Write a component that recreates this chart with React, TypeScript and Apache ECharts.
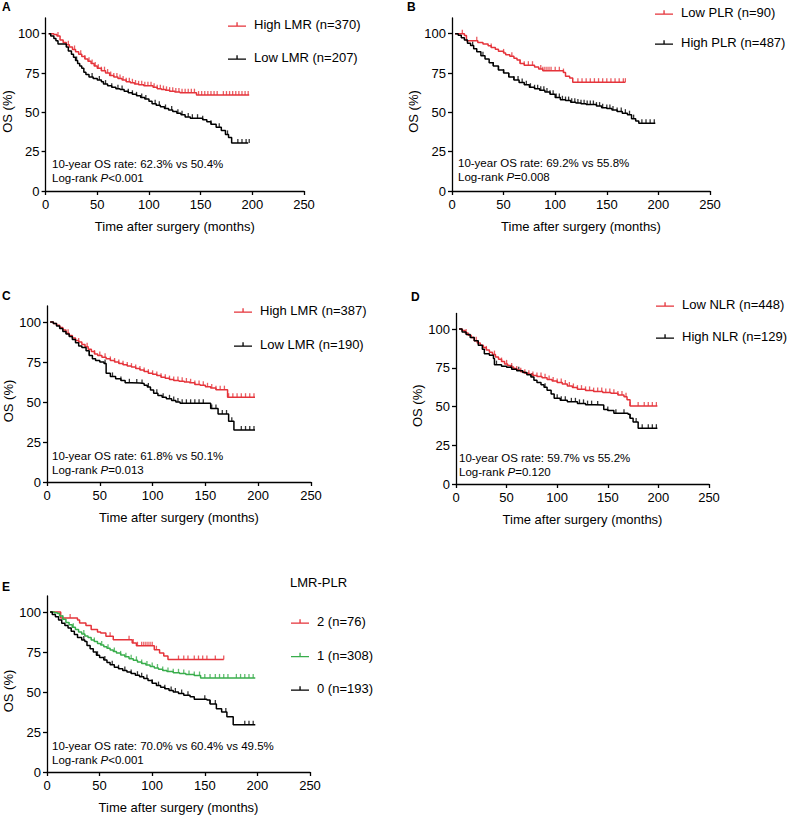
import React, { useEffect, useRef } from "react";
import * as echarts from "echarts";

const FONT = "'Liberation Sans', Arial, sans-serif";
const RED = "#e5333a";
const GREEN = "#38ad4b";
const BLACK = "#000000";

const xTicks = [0, 50, 100, 150, 200, 250];
const yTicks = [0, 25, 50, 75, 100];

// Panel A
const aHighLMR = [[3,100],[8,99.5],[11,98.5],[14,96],[17,94.5],[20,93],[23,91.5],[26,90],[29,88.5],[32,87],[35,85.5],[38,84],[41,82.5],[44,81],[47,79.5],[50,78],[54,76.5],[58,75],[62,73.5],[66,72.5],[70,71.5],[74,70.5],[78,69.5],[82,68.8],[86,68],[90,67.5],[95,67],[100,67],[104,66],[108,65],[112,64.5],[116,64],[120,63.5],[125,63],[130,62.5],[146,61],[197,61]];
const aHighLMRCensor = [12,22,28,34,38,42,45,48,51,54,57,60,63,66,69,72,75,78,81,84,87,90,93,96,99,102,105,108,111,114,117,120,123,126,129,132,135,138,141,144,148,151,154,157,160,163,166,172,175,178,181,184,187,190,193,196];
const aLowLMR = [[3,100],[5,98.5],[8,97],[10,95.5],[12,93.5],[20,91.5],[22,89],[25,87],[27,85],[29,83],[31,81],[33,79.5],[35,78],[37,75.5],[39,74],[42,72.5],[46,71.5],[50,70.5],[54,69.5],[56,68],[60,67],[64,66],[68,65],[72,64.5],[76,63.5],[80,62.5],[84,61.5],[88,60.5],[92,59.5],[96,58.5],[100,57],[103,55.5],[107,54.5],[111,53.5],[115,52.5],[119,51.5],[123,50.5],[127,49.5],[131,48.5],[135,47],[140,46.3],[152,45.3],[156,44],[160,42.5],[165,40.5],[170,38.5],[174,36],[177,34],[180,30.5],[196,30.5]];
const aLowLMRCensor = [30,45,52,58,64,70,74,80,84,88,93,97,106,110,116,122,128,132,138,142,147,152,160,168,176,186,190,194,197];

// Panel B
const bLowPLR = [[3,100],[12,98.9],[14,95.6],[25,94.5],[30,93.4],[35,92.3],[38,91.2],[42,90.1],[45,88.9],[50,87.8],[52,86.7],[56,85.6],[60,84.4],[63,83.3],[66,81.1],[70,80.0],[80,78.8],[84,77.6],[88,76.5],[108,75.3],[110,73.0],[114,71.8],[117,69.2],[168,69.2]];
const bLowPLRCensor = [10,24,38,50,58,66,70,74,78,86,88,90,92,94,96,100,104,108,122,126,130,134,138,142,146,150,154,158,162,166,168];
const bHighPLR = [[3,100],[6,99],[9,97.5],[12,96],[15,94],[18,92.5],[21,90.5],[24,88.5],[28,86],[32,84],[36,81.5],[40,79.5],[45,77],[50,75],[55,72.5],[60,70.5],[65,69],[70,67.5],[75,66],[80,65],[85,64],[90,63],[95,61.5],[100,59.5],[105,58],[110,57.5],[115,56.5],[120,56],[125,55.5],[130,55],[140,54],[145,53],[150,52.5],[155,51.5],[160,50.5],[165,49.5],[170,48.5],[174,46],[178,44.5],[181,43],[197,43]];
const bHighPLRCensor = [20,30,40,45,50,55,60,64,68,72,76,80,83,86,89,92,95,98,101,104,107,110,113,116,119,122,125,128,131,134,137,140,143,146,150,153,156,160,164,168,172,176,184,188,192,196];

// Panel C
const cHighLMR = [[3,100],[6,99],[9,98],[12,96.5],[15,95],[18,93],[21,91.5],[24,90],[27,88.5],[30,87.5],[33,86],[36,84.5],[39,83],[42,81.5],[45,80],[48,79],[52,78],[56,77],[60,76],[64,75],[68,74],[72,73.3],[76,72.5],[80,71.8],[84,71],[88,70],[92,69],[96,68],[100,67.3],[104,66.5],[108,65.5],[112,64.8],[116,64],[120,63.5],[125,63],[130,62.5],[135,62],[140,61],[145,60.4],[150,59.5],[155,58.7],[160,57.7],[171,53],[197,53]];
const cHighLMRCensor = [20,30,38,45,50,55,60,64,68,72,76,80,84,88,92,96,100,104,108,112,116,120,124,128,132,136,140,144,148,152,156,160,164,168,172,176,180,184,188,192,196];
const cLowLMR = [[3,100],[6,99],[9,97.5],[12,96],[15,94],[18,92.5],[21,91],[24,89],[27,87],[30,85],[33,84],[37,82],[40,79],[43,77],[46,76],[50,75],[54,74],[56,68],[60,66],[65,64.5],[70,63.5],[74,62],[80,61.8],[88,61.5],[92,60.5],[95,59.4],[98,57.5],[101,55.5],[105,54],[109,53],[113,52],[118,51],[122,50],[126,49.2],[153,49.2],[155,46],[162,42.5],[172,38],[177,32.5],[197,32.5]];
const cLowLMRCensor = [40,55,62,70,78,85,90,96,104,110,116,120,124,128,132,136,140,144,148,156,160,166,170,175,184,188,192,196];

// Panel D
const dLowNLR = [[3,100],[6,99],[9,97.5],[12,96],[15,94.5],[18,92.5],[21,91],[24,89.5],[27,88],[30,86.5],[33,85],[36,83.5],[39,82],[42,80.5],[45,79],[48,77.5],[51,76.5],[54,75.5],[57,74.5],[60,73.5],[64,72.5],[68,71.5],[72,70.8],[76,70],[80,69.3],[85,68.5],[90,67.5],[95,66.5],[100,65.5],[105,64.5],[110,63.3],[115,62.3],[120,61.2],[128,60.4],[136,59.6],[145,59],[153,58.5],[160,57.5],[166,56.3],[169,54.3],[172,50.3],[199,50.3]];
const dLowNLRCensor = [10,20,30,38,45,50,55,60,64,68,72,76,80,84,88,92,96,100,104,108,112,116,120,124,128,132,136,140,144,148,152,156,160,164,168,172,180,186,190,194,198];
const dHighNLR = [[3,100],[6,98],[10,96.5],[14,94.5],[18,92.5],[22,89.5],[26,87],[28,84],[33,83],[37,81],[38,77],[45,76],[50,75.3],[55,74],[60,73],[66,72],[70,70.5],[74,69],[77,67],[80,65.5],[84,64],[87,62.5],[90,60.5],[94,58],[97,55.3],[103,54],[110,53],[120,52],[128,51.2],[137,51],[146,48],[150,47.5],[156,45.6],[170,45],[172,42.5],[175,40],[180,36],[199,36]];
const dHighNLRCensor = [40,55,62,75,88,100,104,108,114,118,122,126,130,134,140,150,158,166,172,178,184,190,194,198];

// Panel E
const eScore2 = [[3,100],[8,100],[13,96.2],[29,95],[31,93.1],[37,91.6],[42,89],[48,87.5],[51,86.9],[56,84.8],[63,82.7],[81,80.6],[85,78.9],[102,76.4],[107,74.4],[111,72.5],[115,70.3],[168,70.3]];
const eScore2Censor = [22,60,78,82,86,90,92,94,96,98,100,104,125,130,134,140,144,148,152,160,168];
const eScore1 = [[3,100],[7,99.5],[10,99],[12,97.5],[15,95.5],[18,93.5],[21,92],[24,90.5],[27,89],[30,87.5],[33,86.3],[36,85],[39,84],[42,82.5],[45,81.5],[48,80.3],[51,79.3],[54,78.3],[57,77.3],[60,76.3],[63,75.3],[66,74.4],[70,73.2],[74,72],[78,70.8],[82,69.8],[86,68.8],[90,67.8],[94,66.8],[98,66],[102,65],[106,64.2],[110,63.4],[114,62.8],[120,62],[126,61.5],[132,61],[140,60.3],[146,58.8],[198,58.8]];
const eScore1Censor = [15,25,35,45,52,58,64,70,75,80,85,90,95,100,105,110,115,120,125,130,135,140,145,150,155,160,164,168,172,180,184,188,192,196];
const eScore0 = [[3,100],[5,98.5],[8,97],[11,95],[14,93],[17,91.5],[20,90],[23,88],[26,86],[29,84],[33,82.5],[36,81.5],[38,79],[41,77],[44,75],[47,73],[50,71.5],[54,70],[57,68.5],[60,67],[64,65.5],[68,64.5],[72,63.5],[76,62.5],[80,61.5],[84,60.5],[88,59.5],[92,58.5],[96,57.2],[100,55.5],[104,54],[108,53],[112,52],[116,51],[120,50],[125,49],[130,48],[136,47],[140,45.5],[152,45],[155,42.5],[161,39.5],[166,37.5],[171,34.5],[177,29.5],[198,29.5]];
const eScore0Censor = [35,48,55,62,68,74,80,86,90,95,100,106,112,118,122,128,134,150,155,160,170,188,192,196];

const grids = [
  { left: 44, top: 18, width: 260, height: 173 },
  { left: 452, top: 18, width: 258, height: 173 },
  { left: 47, top: 306, width: 264, height: 176 },
  { left: 456, top: 313.5, width: 253, height: 170.5 },
  { left: 47, top: 596, width: 263, height: 176 },
];

type Curve = { name: string; grid: number; color: string; data: number[][]; censor: number[] };

const curves: Curve[] = [
  { name: "High LMR (n=370)", grid: 0, color: RED, data: aHighLMR, censor: aHighLMRCensor },
  { name: "Low LMR (n=207)", grid: 0, color: BLACK, data: aLowLMR, censor: aLowLMRCensor },
  { name: "Low PLR (n=90)", grid: 1, color: RED, data: bLowPLR, censor: bLowPLRCensor },
  { name: "High PLR (n=487)", grid: 1, color: BLACK, data: bHighPLR, censor: bHighPLRCensor },
  { name: "High LMR (n=387)", grid: 2, color: RED, data: cHighLMR, censor: cHighLMRCensor },
  { name: "Low LMR (n=190)", grid: 2, color: BLACK, data: cLowLMR, censor: cLowLMRCensor },
  { name: "Low NLR (n=448)", grid: 3, color: RED, data: dLowNLR, censor: dLowNLRCensor },
  { name: "High NLR (n=129)", grid: 3, color: BLACK, data: dHighNLR, censor: dHighNLRCensor },
  { name: "2 (n=76)", grid: 4, color: RED, data: eScore2, censor: eScore2Censor },
  { name: "1 (n=308)", grid: 4, color: GREEN, data: eScore1, censor: eScore1Censor },
  { name: "0 (n=193)", grid: 4, color: BLACK, data: eScore0, censor: eScore0Censor },
];

const legends = [
  { grid: 0, left: 228, top: 18, gap: 20 },
  { grid: 1, left: 655, top: 6, gap: 17 },
  { grid: 2, left: 234, top: 304, gap: 21 },
  { grid: 3, left: 656, top: 298, gap: 19 },
  { grid: 4, left: 291, top: 615, gap: 20.5 },
];

const annotations = [
  { x: 52, y: 157, rate: "10-year OS rate: 62.3% vs 50.4%", p: "<0.001" },
  { x: 458, y: 156, rate: "10-year OS rate: 69.2% vs 55.8%", p: "=0.008" },
  { x: 52, y: 449, rate: "10-year OS rate: 61.8% vs 50.1%", p: "=0.013" },
  { x: 459, y: 451, rate: "10-year OS rate: 59.7% vs 55.2%", p: "=0.120" },
  { x: 52, y: 739, rate: "10-year OS rate: 70.0% vs 60.4% vs 49.5%", p: "<0.001" },
];

const panelLetters = [
  { t: "A", x: 2, y: 7 },
  { t: "B", x: 407, y: 7 },
  { t: "C", x: 2, y: 296 },
  { t: "D", x: 411, y: 297 },
  { t: "E", x: 2, y: 587 },
];

function stepAt(curve: number[][], t: number): number {
  let s = curve[0][1];
  for (const [ti, si] of curve) {
    if (ti <= t) s = si;
    else break;
  }
  return s;
}

const LEGEND_ICON = "path://M0,4h18v1.4h-18z M8.4,0.8h1.3v3.4h-1.3z";

export default function App() {
  const ref = useRef<HTMLDivElement>(null);
  useEffect(() => {
    if (!ref.current) return;
    const chart = echarts.init(ref.current, undefined, { renderer: "svg" });
    const axisLineStyle = { color: "#000", width: 1.3 };
    const xAxes = grids.map((_, i) => ({
      type: "value",
      gridIndex: i,
      min: 0,
      max: 250,
      interval: 50,
      axisLine: { show: true, lineStyle: axisLineStyle },
      axisTick: { show: true, length: 4, lineStyle: axisLineStyle, customValues: xTicks },
      axisLabel: { fontSize: 13, color: "#000", margin: 7, fontFamily: FONT, customValues: xTicks },
      splitLine: { show: false },
      name: "Time after surgery (months)",
      nameLocation: "middle",
      nameGap: 29,
      nameTextStyle: { fontSize: 13, color: "#000", fontFamily: FONT },
    }));
    const yAxes = grids.map((_, i) => ({
      type: "value",
      gridIndex: i,
      min: 0,
      max: 110,
      interval: 25,
      axisLine: { show: true, lineStyle: axisLineStyle },
      axisTick: { show: true, length: 4, lineStyle: axisLineStyle, customValues: yTicks },
      axisLabel: { fontSize: 13, color: "#000", margin: 6, fontFamily: FONT, customValues: yTicks },
      splitLine: { show: false },
      name: "OS (%)",
      nameLocation: "middle",
      nameGap: 29,
      nameTextStyle: { fontSize: 13, color: "#000", fontFamily: FONT, padding: [0, 14, 0, 0] },
    }));
    const series: any[] = [];
    curves.forEach((c) => {
      series.push({
        type: "line",
        name: c.name,
        xAxisIndex: c.grid,
        yAxisIndex: c.grid,
        data: c.data,
        step: "end",
        showSymbol: false,
        symbol: "none",
        lineStyle: { color: c.color, width: 1.5 },
        itemStyle: { color: c.color },
        silent: true,
      });
      series.push({
        type: "scatter",
        name: c.name,
        xAxisIndex: c.grid,
        yAxisIndex: c.grid,
        data: c.censor.map((t) => [t, stepAt(c.data, t)]),
        symbol: "path://M0,0h1v4h-1z",
        symbolSize: [1.3, 4],
        symbolOffset: [0, -2],
        itemStyle: { color: c.color },
        silent: true,
      });
    });
    const legend = legends.map((l) => ({
      orient: "vertical",
      left: l.left,
      top: l.top,
      padding: 0,
      itemWidth: 18,
      itemHeight: 5,
      itemGap: l.gap,
      selectedMode: false,
      textStyle: { fontSize: 13, color: "#000", fontFamily: FONT, padding: [0, 0, 0, 3] },
      data: curves.filter((c) => c.grid === l.grid).map((c) => ({ name: c.name, icon: LEGEND_ICON })),
    }));
    const graphic: any[] = [];
    panelLetters.forEach((p) => {
      graphic.push({
        type: "text",
        x: p.x,
        y: p.y,
        style: { text: p.t, fontSize: 12, fontWeight: "bold", fill: "#000", fontFamily: FONT, verticalAlign: "middle" },
      });
    });
    annotations.forEach((a) => {
      graphic.push({
        type: "text",
        x: a.x,
        y: a.y,
        style: {
          text: a.rate + "\nLog-rank {i|P}" + a.p,
          fontSize: 11.5,
          lineHeight: 14,
          fill: "#000",
          fontFamily: FONT,
          verticalAlign: "top",
          rich: { i: { fontStyle: "italic", fontSize: 11.5, fontFamily: FONT, fill: "#000" } },
        },
      });
    });
    graphic.push({
      type: "text",
      x: 290,
      y: 582,
      style: { text: "LMR-PLR", fontSize: 13, fill: "#000", fontFamily: FONT, verticalAlign: "middle" },
    });
    chart.setOption({
      animation: false,
      backgroundColor: "#fff",
      textStyle: { fontFamily: FONT },
      grid: grids,
      xAxis: xAxes,
      yAxis: yAxes,
      legend,
      series,
      graphic,
    });
    return () => chart.dispose();
  }, []);
  return <div ref={ref} style={{ position: "absolute", left: 0, top: 0, width: 788, height: 820 }} />;
}
